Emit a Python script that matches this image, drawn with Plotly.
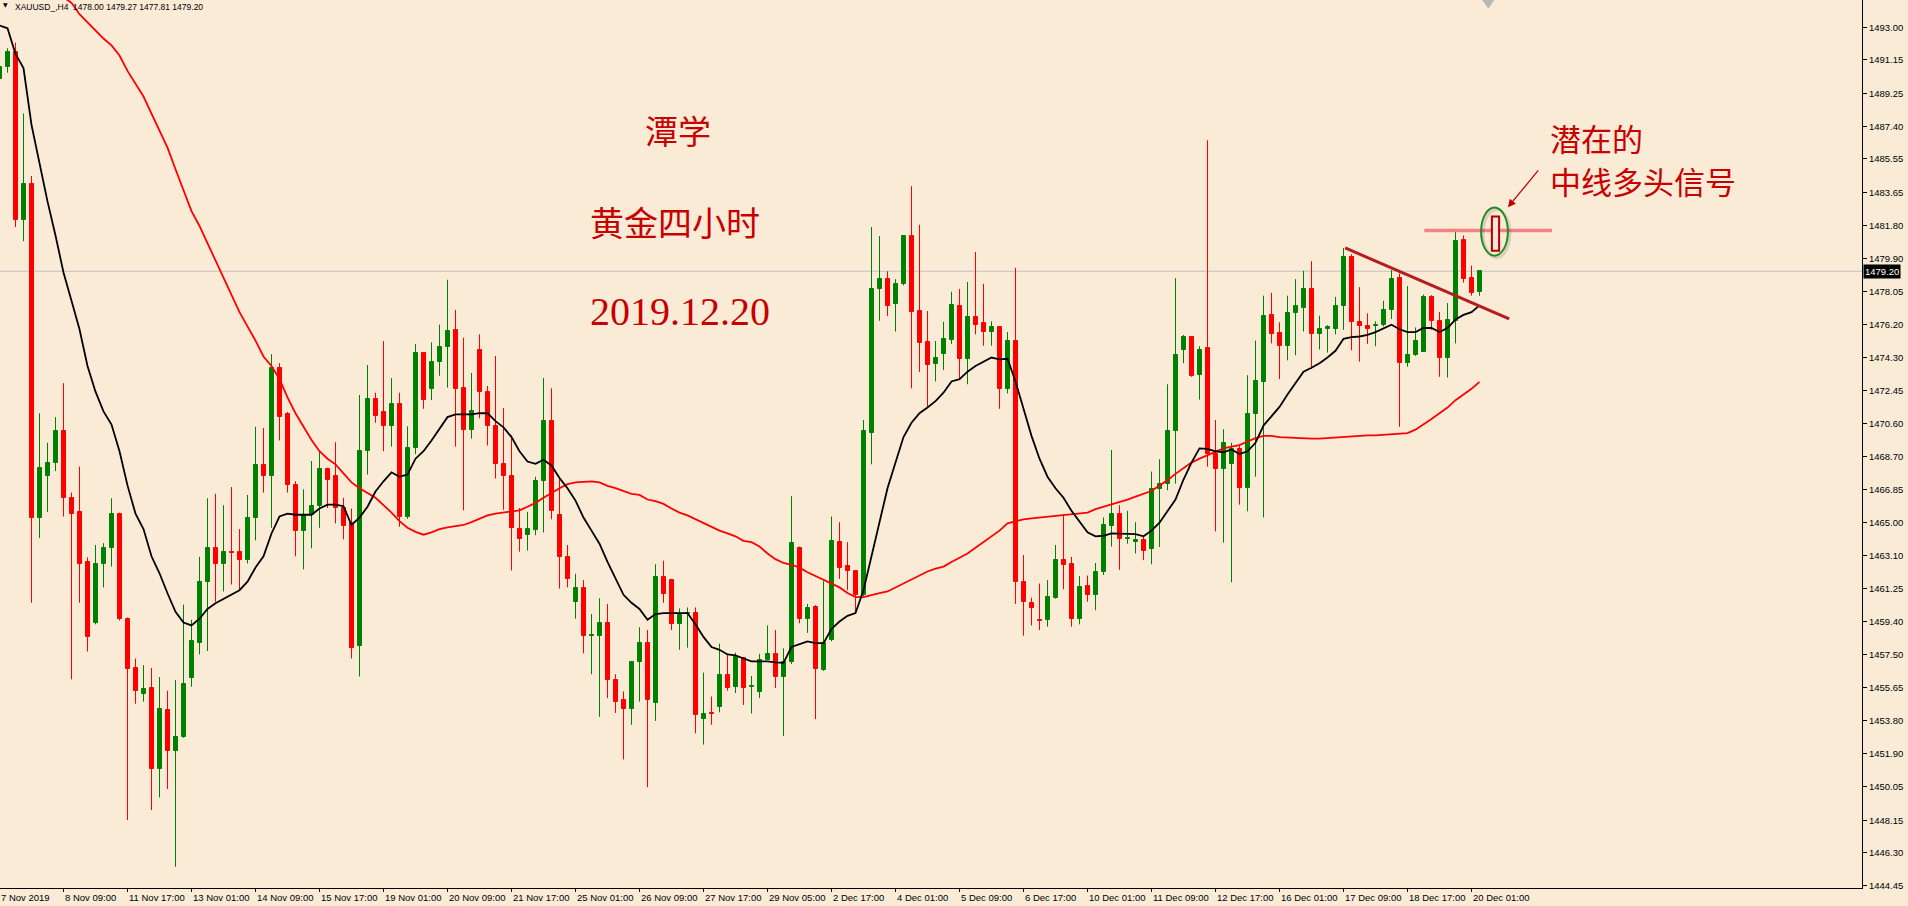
import plotly.graph_objects as go

# ---------------- data (XAUUSD H4) ----------------
opens = [1490.05,1490.75,1491.59,1482.09,1484.14,1465.27,1467.64,1468.35,1470.14,1466.36,
1465.59,1462.76,1459.33,1462.63,1463.53,1465.46,1459.52,1456.76,1455.28,1455.63,
1451.04,1454.38,1452.04,1452.84,1456.18,1458.20,1461.61,1463.56,1462.67,1463.34,
1463.31,1462.86,1465.23,1468.22,1467.64,1473.74,1471.11,1467.09,1464.49,1465.39,
1465.91,1468.03,1467.64,1465.81,1464.94,1458.01,1469.05,1471.97,1471.24,1470.43,
1471.72,1465.30,1469.21,1474.57,1472.52,1474.06,1474.93,1475.89,1472.58,1470.24,
1474.73,1472.39,1470.47,1468.28,1467.64,1464.62,1464.30,1464.56,1467.35,1470.72,
1465.43,1463.02,1460.48,1461.28,1458.56,1458.59,1459.29,1456.08,1454.96,1454.42,
1457.11,1458.20,1454.80,1461.93,1461.73,1459.23,1459.81,1459.87,1453.90,1454.22,
1454.54,1456.34,1455.70,1457.30,1455.67,1455.38,1457.24,1457.56,1456.25,1457.08,
1463.56,1459.55,1460.19,1456.66,1458.33,1463.88,1462.54,1462.22,1460.90,1470.08,
1478.17,1478.75,1477.37,1478.46,1481.19,1476.95,1475.18,1473.93,1474.51,1475.31,
1477.24,1474.22,1476.63,1476.28,1475.79,1476.05,1472.55,1475.28,1461.61,1460.45,
1459.49,1459.46,1460.74,1462.86,1462.63,1459.55,1461.41,1460.90,1462.18,1464.82,
1465.46,1464.08,1463.88,1464.01,1463.47,1466.87,1467.19,1470.18,1474.77,1475.47,
1473.32,1474.86,1468.86,1467.99,1468.28,1469.12,1466.93,1471.11,1472.91,1476.72,
1475.73,1474.99,1476.85,1477.14,1478.17,1475.63,1475.95,1475.95,1477.21,1480.00,
1476.34,1476.11,1476.11,1476.15,1477.01,1478.81,1474.00,1474.45,1474.64,1477.72,
1476.37,1474.29,1476.40,1480.96,1478.81,1478.00]
highs = [1491.00,1491.81,1492.13,1488.12,1484.59,1471.17,1469.50,1470.95,1472.87,1466.68,
1468.15,1463.02,1463.72,1463.82,1466.36,1465.55,1459.62,1457.30,1456.92,1456.76,
1456.25,1455.48,1456.09,1460.35,1459.49,1463.05,1466.36,1466.61,1465.97,1467.00,
1464.62,1466.55,1470.40,1470.34,1474.51,1474.00,1471.24,1467.32,1466.87,1468.47,
1469.02,1468.09,1469.53,1466.39,1465.78,1472.20,1473.90,1472.33,1475.25,1473.16,
1472.33,1470.43,1475.09,1474.64,1475.18,1476.18,1478.72,1477.01,1475.44,1473.45,
1475.63,1472.71,1474.41,1471.46,1469.92,1465.81,1465.59,1467.58,1473.16,1472.58,
1467.51,1463.72,1462.09,1461.73,1459.81,1460.71,1460.39,1456.41,1455.44,1457.14,
1459.07,1458.91,1462.63,1462.83,1461.80,1460.13,1460.19,1460.19,1456.50,1455.15,
1458.14,1457.50,1457.63,1457.37,1456.31,1457.56,1459.17,1458.91,1457.88,1466.48,
1463.63,1460.39,1460.32,1461.67,1465.33,1465.01,1463.88,1462.28,1470.79,1481.70,
1481.19,1479.20,1478.75,1481.25,1484.01,1481.83,1476.95,1475.25,1476.34,1478.04,
1478.20,1478.59,1480.29,1478.49,1476.37,1476.10,1475.76,1479.39,1463.15,1460.74,
1461.54,1461.73,1463.72,1465.46,1463.05,1461.96,1461.99,1462.70,1465.27,1469.09,
1465.97,1465.65,1465.01,1464.17,1467.87,1468.57,1472.81,1478.81,1475.60,1475.54,
1474.96,1486.61,1470.79,1470.27,1469.50,1469.34,1473.32,1475.28,1477.82,1477.98,
1476.31,1477.82,1478.75,1479.23,1479.77,1476.69,1476.15,1477.75,1480.51,1480.16,
1478.30,1476.82,1476.37,1477.53,1479.26,1479.07,1478.36,1476.02,1477.88,1477.85,
1476.89,1477.40,1481.60,1481.22,1479.52,1479.27]
lows = [1489.80,1490.43,1481.70,1480.90,1460.45,1464.11,1465.59,1467.90,1465.33,1456.12,
1460.45,1457.69,1459.23,1461.32,1462.50,1459.45,1448.16,1454.74,1454.86,1448.73,
1449.44,1449.92,1445.52,1452.81,1455.70,1457.53,1457.72,1460.51,1461.09,1461.48,
1461.16,1462.67,1463.98,1466.68,1464.69,1469.63,1466.68,1463.08,1462.34,1463.53,
1464.69,1465.81,1464.94,1464.04,1457.30,1456.28,1467.70,1470.63,1469.02,1469.28,
1464.75,1465.20,1468.86,1471.42,1471.91,1473.29,1472.62,1469.28,1465.68,1469.73,
1470.88,1469.34,1467.48,1465.71,1462.28,1463.34,1463.40,1464.27,1464.43,1465.17,
1461.25,1461.32,1459.55,1457.59,1456.41,1454.00,1455.06,1454.22,1451.59,1453.55,
1454.86,1450.02,1453.77,1460.45,1458.91,1457.79,1457.91,1453.07,1452.43,1453.55,
1454.26,1455.48,1455.35,1454.67,1454.19,1455.06,1457.21,1455.63,1452.91,1456.98,
1459.29,1458.75,1453.87,1456.60,1458.27,1461.80,1461.16,1459.94,1460.83,1468.28,
1476.40,1476.66,1475.79,1478.40,1472.58,1473.51,1471.49,1472.97,1473.61,1475.09,
1473.13,1472.81,1475.63,1474.99,1474.99,1471.42,1472.29,1460.39,1458.59,1459.17,
1458.91,1459.10,1460.68,1461.22,1459.10,1459.23,1460.51,1460.03,1462.02,1463.63,
1462.31,1463.79,1463.24,1462.86,1462.63,1463.60,1466.81,1467.19,1474.00,1473.23,
1471.94,1468.15,1464.49,1463.85,1461.61,1466.00,1465.62,1467.58,1465.27,1475.12,
1473.10,1474.16,1474.45,1475.79,1473.68,1474.77,1474.60,1475.63,1475.89,1474.73,
1474.09,1475.09,1474.96,1476.08,1476.50,1470.40,1473.80,1474.41,1474.64,1475.89,
1473.23,1473.19,1475.12,1478.56,1477.82,1477.81]
closes = [1490.75,1491.59,1482.09,1484.14,1465.27,1468.09,1468.35,1470.14,1466.36,1465.49,
1462.67,1458.49,1462.63,1463.53,1465.46,1459.52,1456.73,1455.44,1455.57,1451.04,
1454.45,1452.04,1452.84,1455.86,1458.27,1461.64,1463.56,1462.67,1463.31,1463.24,
1462.86,1465.23,1468.22,1467.64,1473.74,1470.98,1467.09,1464.49,1465.39,1465.91,
1468.03,1467.38,1465.81,1464.82,1457.91,1469.05,1471.97,1471.04,1470.43,1471.72,
1465.30,1469.21,1474.57,1471.94,1474.06,1474.93,1475.83,1472.52,1470.24,1471.30,
1472.39,1470.47,1468.28,1467.64,1464.66,1464.04,1464.62,1467.35,1470.72,1465.62,
1463.02,1461.77,1461.28,1458.56,1458.65,1459.29,1456.08,1454.86,1454.42,1457.11,
1458.20,1454.93,1461.93,1460.93,1459.23,1459.74,1459.90,1454.10,1454.16,1454.16,
1456.34,1455.63,1457.37,1455.63,1455.73,1457.24,1457.53,1456.25,1457.08,1463.82,
1459.55,1460.13,1456.73,1458.17,1463.95,1462.44,1462.22,1460.90,1470.18,1478.20,
1478.75,1477.21,1478.49,1481.19,1476.92,1475.12,1473.87,1474.29,1475.38,1477.30,
1474.22,1476.63,1476.15,1475.76,1476.05,1472.55,1475.28,1461.61,1460.51,1460.13,
1459.43,1460.77,1462.86,1462.60,1459.55,1461.35,1460.90,1462.18,1464.85,1465.46,
1464.04,1464.14,1464.01,1463.40,1466.87,1467.19,1470.18,1474.45,1475.47,1473.29,
1474.77,1468.86,1467.99,1469.50,1469.12,1466.93,1471.14,1473.00,1476.66,1475.67,
1474.99,1476.85,1477.24,1478.17,1475.63,1475.92,1476.02,1477.24,1480.00,1476.31,
1476.08,1475.95,1476.18,1477.01,1478.75,1474.00,1474.48,1475.25,1477.72,1476.37,
1474.29,1476.44,1480.90,1478.78,1477.98,1479.20]

ma_fast = [1493.10,1492.94,1491.49,1490.69,1487.48,1485.23,1483.15,1481.22,1479.13,1477.53,
1475.92,1473.84,1472.39,1471.27,1470.53,1469.02,1467.09,1465.49,1464.62,1463.08,
1462.12,1460.99,1459.94,1459.33,1459.17,1459.55,1460.10,1460.42,1460.67,1460.93,
1461.16,1461.64,1462.44,1463.08,1464.37,1465.33,1465.49,1465.43,1465.43,1465.43,
1465.78,1466.00,1466.00,1465.91,1464.85,1465.27,1465.88,1466.74,1467.32,1467.83,
1467.58,1467.70,1468.60,1469.02,1469.63,1470.27,1470.95,1471.11,1471.11,1471.11,
1471.17,1471.17,1470.72,1470.37,1469.82,1469.02,1468.44,1468.31,1468.54,1468.22,
1467.51,1466.93,1466.23,1465.27,1464.53,1463.79,1462.76,1461.80,1460.90,1460.45,
1460.10,1459.49,1459.81,1459.87,1459.87,1459.87,1459.87,1459.23,1458.52,1457.95,
1457.79,1457.53,1457.47,1457.30,1457.14,1457.14,1457.14,1457.08,1457.05,1457.95,
1458.11,1458.27,1458.17,1458.17,1458.97,1459.39,1459.71,1459.87,1461.16,1463.08,
1465.17,1466.93,1468.38,1469.82,1470.63,1471.17,1471.49,1471.85,1472.33,1472.97,
1473.10,1473.52,1473.84,1474.09,1474.32,1474.22,1474.25,1472.97,1471.36,1469.89,
1468.60,1467.58,1466.93,1466.39,1465.65,1465.01,1464.43,1464.21,1464.24,1464.37,
1464.37,1464.37,1464.33,1464.21,1464.53,1464.98,1465.65,1466.29,1467.42,1468.38,
1469.18,1469.15,1469.02,1468.96,1469.12,1468.86,1469.02,1469.50,1470.47,1471.01,
1471.53,1472.23,1472.87,1473.52,1473.74,1474.00,1474.32,1474.70,1475.38,1475.47,
1475.51,1475.60,1475.76,1475.99,1476.18,1475.92,1475.76,1475.76,1475.99,1475.99,
1475.76,1475.99,1476.47,1476.73,1476.89,1477.27]

ma_slow = [None,None,None,None,None,None,None,None,1494.70,1494.38,
1493.74,1493.26,1492.78,1492.36,1491.97,1491.40,1490.53,1489.79,1489.08,1488.12,
1487.16,1486.19,1484.97,1483.79,1482.60,1481.76,1480.80,1479.77,1478.81,1477.85,
1476.89,1476.08,1475.28,1474.38,1473.84,1473.10,1472.07,1471.17,1470.40,1469.66,
1469.02,1468.60,1468.28,1467.80,1467.26,1466.93,1466.68,1466.39,1465.97,1465.55,
1465.07,1464.69,1464.46,1464.30,1464.43,1464.62,1464.72,1464.78,1464.85,1465.01,
1465.20,1465.39,1465.49,1465.55,1465.59,1465.68,1465.88,1466.10,1466.39,1466.68,
1466.93,1467.16,1467.26,1467.29,1467.32,1467.26,1467.06,1466.93,1466.77,1466.61,
1466.55,1466.29,1466.20,1466.04,1465.78,1465.55,1465.39,1465.17,1464.94,1464.75,
1464.53,1464.37,1464.21,1463.95,1463.88,1463.63,1463.24,1462.92,1462.70,1462.60,
1462.44,1462.18,1461.96,1461.73,1461.54,1461.32,1461.00,1460.77,1460.77,1460.90,
1461.00,1461.09,1461.32,1461.57,1461.80,1462.02,1462.22,1462.38,1462.50,1462.76,
1463.02,1463.24,1463.56,1463.88,1464.21,1464.53,1464.94,1465.07,1465.17,1465.23,
1465.27,1465.33,1465.39,1465.43,1465.46,1465.49,1465.55,1465.75,1465.88,1466.04,
1466.16,1466.29,1466.45,1466.61,1466.77,1467.09,1467.38,1467.74,1468.06,1468.38,
1468.60,1468.80,1469.02,1469.18,1469.28,1469.37,1469.57,1469.76,1469.89,1469.89,
1469.82,1469.79,1469.76,1469.76,1469.73,1469.73,1469.76,1469.79,1469.86,1469.89,
1469.89,1469.92,1469.92,1469.95,1469.95,1469.98,1470.05,1470.24,1470.53,1470.85,
1471.17,1471.49,1471.91,1472.23,1472.55,1472.94]

first_label = "7 Nov 2019"
time_labels = ["8 Nov 09:00","11 Nov 17:00","13 Nov 01:00","14 Nov 09:00","15 Nov 17:00",
"19 Nov 01:00","20 Nov 09:00","21 Nov 17:00","25 Nov 01:00","26 Nov 09:00",
"27 Nov 17:00","29 Nov 05:00","2 Dec 17:00","4 Dec 01:00","5 Dec 09:00",
"6 Dec 17:00","10 Dec 01:00","11 Dec 09:00","12 Dec 17:00","16 Dec 01:00",
"17 Dec 09:00","18 Dec 17:00","20 Dec 01:00"]
time_label_bars = [8 + 8 * k for k in range(len(time_labels))]

price_ticks = [1493.00,1491.15,1489.25,1487.40,1485.55,1483.65,1481.80,1479.90,1478.05,
1476.20,1474.30,1472.45,1470.60,1468.70,1466.85,1465.00,1463.10,1461.25,1459.40,
1457.50,1455.65,1453.80,1451.90,1450.05,1448.15,1446.30,1444.45]

last_price = 1479.20
ghost_bar = {"x": 187, "open": 1480.36, "close": 1482.29}
resistance = {"x0": 178.1, "x1": 194.05, "y": 1481.50}
trend = {"x0": 168.21, "y0": 1480.52, "x1": 188.71, "y1": 1476.50}

# ---------------- styling ----------------
BG = "#FAEBD7"
UP = "#008000"
DN = "#FF0000"
TXT = "#c80000"
AXFONT = dict(family="Liberation Sans", size=9.5, color="#000000")

idx = list(range(len(opens)))
colors = [UP if c >= o else DN for o, c in zip(opens, closes)]
bases = [min(o, c) for o, c in zip(opens, closes)]
heights = [max(abs(c - o), 0.02) for o, c in zip(opens, closes)]

fig = go.Figure()

for col in (UP, DN):
    wx, wy = [], []
    for i in idx:
        if colors[i] == col:
            wx += [i, i, None]
            wy += [lows[i], highs[i], None]
    fig.add_trace(go.Scatter(x=wx, y=wy, mode="lines", line=dict(color=col, width=1),
                             hoverinfo="skip", showlegend=False))

fig.add_trace(go.Bar(x=idx, y=heights, base=bases, width=0.5,
                     marker=dict(color=colors, line=dict(color=colors, width=1)),
                     hoverinfo="skip", showlegend=False))

fig.add_trace(go.Scatter(x=idx, y=ma_slow, mode="lines", line=dict(color="#FF0000", width=1.8),
                         hoverinfo="skip", showlegend=False, connectgaps=False))
fig.add_trace(go.Scatter(x=idx, y=ma_fast, mode="lines", line=dict(color="#000000", width=1.8),
                         hoverinfo="skip", showlegend=False))

shapes = []
shapes.append(dict(type="line", xref="paper", x0=0, x1=1, yref="y", y0=last_price, y1=last_price,
                   line=dict(color="#C0C0C0", width=1), layer="below"))
shapes.append(dict(type="line", x0=trend["x0"], y0=trend["y0"], x1=trend["x1"], y1=trend["y1"],
                   line=dict(color="#b41e1e", width=3)))
shapes.append(dict(type="line", x0=resistance["x0"], x1=resistance["x1"], y0=resistance["y"],
                   y1=resistance["y"], line=dict(color="#f38383", width=3.5)))
gx = ghost_bar["x"]
shapes.append(dict(type="circle", x0=gx - 1.55, x1=gx + 1.8, y0=1479.97, y1=1482.69,
                   line=dict(color="rgba(0,0,0,0.12)", width=3)))
shapes.append(dict(type="circle", x0=gx - 1.8, x1=gx + 1.55, y0=1480.08, y1=1482.80,
                   line=dict(color="#228b22", width=2)))
shapes.append(dict(type="rect", x0=gx - 0.45, x1=gx + 0.45, y0=ghost_bar["open"], y1=ghost_bar["close"],
                   line=dict(color="#b00000", width=2), fillcolor="#f7e4d8"))
shapes.append(dict(type="path", xref="x", yref="paper",
                   path="M 185.4,1 L 186.8,1 L 186.1,0.991 Z",
                   fillcolor="#b8b8b8", line=dict(color="#b8b8b8", width=1)))

cjk = "Noto Sans CJK SC"
annotations = [
    dict(x=84.8, y=1487.19, text="潭学", showarrow=False, font=dict(family=cjk, size=33, color=TXT)),
    dict(x=84.4, y=1482.04, text="黄金四小时", showarrow=False, font=dict(family=cjk, size=34, color=TXT)),
    dict(x=85.0, y=1476.95, text="2019.12.20", showarrow=False,
         font=dict(family="Liberation Serif", size=40, color=TXT)),
    dict(x=193.6, y=1486.74, text="潜在的", showarrow=False, xanchor="left",
         font=dict(family=cjk, size=31, color=TXT)),
    dict(x=193.6, y=1484.36, text="中线多头信号", showarrow=False, xanchor="left",
         font=dict(family=cjk, size=31, color=TXT)),
    dict(x=188.55, y=1482.82, ax=192.5, ay=1484.99, axref="x", ayref="y", text="",
         showarrow=True, arrowhead=2, arrowsize=1.3, arrowwidth=1.2, arrowcolor="#c00000"),
    dict(xref="paper", yref="paper", x=0, y=1, xanchor="left", yanchor="top", xshift=13, yshift=0,
         text="XAUUSD_,H4\u00a0\u00a01478.00 1479.27 1477.81 1479.20", showarrow=False,
         font=dict(family="Liberation Sans", size=8.5, color="#000000")),
    dict(xref="paper", yref="paper", x=0, y=1, xanchor="left", yanchor="top", xshift=1, yshift=1,
         text="▼", showarrow=False, font=dict(family="DejaVu Sans", size=6, color="#000000")),
    dict(xref="paper", yref="y", x=1, y=last_price, xanchor="left", xshift=1, text="1479.20",
         showarrow=False, bgcolor="#000000", borderpad=1,
         font=dict(family="Liberation Sans", size=9.5, color="#FFFFFF")),
    dict(xref="paper", yref="paper", x=0, y=0, xanchor="left", yanchor="middle", xshift=-1, yshift=-9,
         text=first_label, showarrow=False, font=AXFONT),
]
# bottom time labels, left-aligned to their tick like the terminal draws them
for b, t in zip(time_label_bars, time_labels):
    annotations.append(dict(xref="x", yref="paper", x=b, y=0, xanchor="left", yanchor="middle",
                            xshift=-1, yshift=-9, text=t, showarrow=False, font=AXFONT))

fig.update_layout(
    width=1908, height=906,
    margin=dict(l=0, r=46, t=0, b=18, pad=0),
    paper_bgcolor=BG, plot_bgcolor=BG,
    showlegend=False, bargap=0,
    shapes=shapes, annotations=annotations,
    xaxis=dict(range=[0.0625, 232.8125], showgrid=False, zeroline=False,
               showline=True, linecolor="#000000", linewidth=1,
               ticks="outside", ticklen=3, tickcolor="#000000", tickwidth=1,
               tickvals=time_label_bars, showticklabels=False, automargin=False,
               fixedrange=True),
    yaxis=dict(side="right", range=[1444.32, 1494.54], showgrid=False, zeroline=False,
               showline=True, linecolor="#000000", linewidth=1,
               ticks="outside", ticklen=4, tickcolor="#000000", tickwidth=1,
               tickvals=price_ticks, ticktext=[f"{v:.2f}" for v in price_ticks],
               automargin=False, tickfont=AXFONT, fixedrange=True),
)

fig.write_html("out.html", config={"displayModeBar": False},
               post_script="document.body.style.margin='0';document.body.style.overflow='hidden';")
